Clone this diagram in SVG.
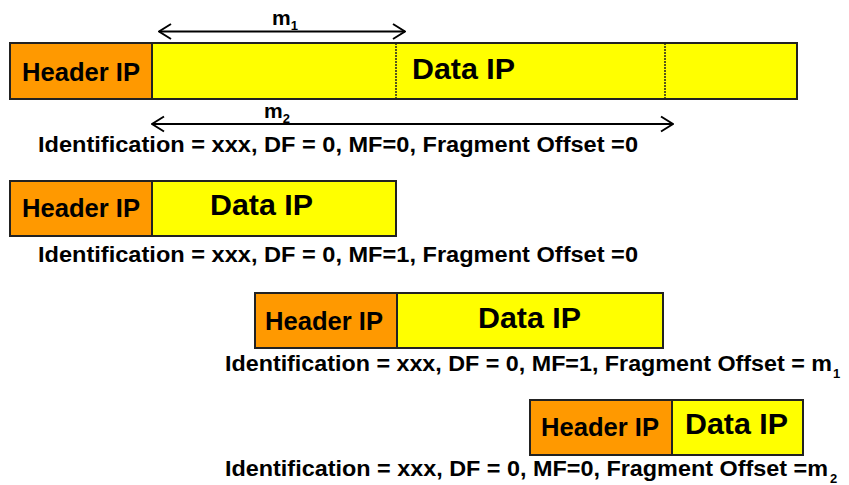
<svg xmlns="http://www.w3.org/2000/svg" width="849" height="485" viewBox="0 0 849 485">
<style>
text{font-family:"Liberation Sans",Arial,sans-serif;font-weight:bold;fill:#000}
.hdr{fill:#ff9900;stroke:#222;stroke-width:2}
.dat{fill:#ffff00;stroke:#222;stroke-width:2}
.h{font-size:25.5px}
.d{font-size:30px}
.l{font-size:22px}
.m{font-size:21px}
.sub{font-size:13px}
.dot{stroke:#222;stroke-width:1.5;stroke-dasharray:2 1}
.arr{stroke:#000;stroke-width:2;fill:none}
</style>
<defs>
<marker id="ah" viewBox="0 0 14 18" refX="13" refY="9" markerWidth="14" markerHeight="18" markerUnits="userSpaceOnUse" orient="auto-start-reverse">
<path d="M1,1.5 L13,9 L1,16.5" fill="none" stroke="#000" stroke-width="2"/>
</marker>
</defs>
<g id="packet0">
<rect class="hdr" x="10" y="43" width="142" height="56"/>
<rect class="dat" x="152" y="43" width="645" height="56"/>
<line class="dot" x1="396" y1="43" x2="396" y2="99"/>
<line class="dot" x1="665" y1="43" x2="665" y2="99"/>
<text class="h" x="22" y="80.5" textLength="118" lengthAdjust="spacingAndGlyphs">Header IP</text>
<text class="d" x="412" y="78.5" textLength="103" lengthAdjust="spacingAndGlyphs">Data IP</text>
<text class="l" x="38" y="151.5" textLength="600" lengthAdjust="spacingAndGlyphs">Identification = xxx, DF = 0, MF=0, Fragment Offset =0</text>
</g>
<g id="connectors">
<line class="arr" x1="159" y1="31.5" x2="405" y2="31.5" marker-start="url(#ah)" marker-end="url(#ah)"/>
<line class="arr" x1="152" y1="124" x2="673" y2="124" marker-start="url(#ah)" marker-end="url(#ah)"/>
</g>
<g id="labels">
<text class="m" x="272" y="25">m<tspan class="sub" dy="5">1</tspan></text>
<text class="m" x="264" y="118">m<tspan class="sub" dy="5">2</tspan></text>
</g>
<g id="packet1">
<rect class="hdr" x="10" y="181" width="142" height="55"/>
<rect class="dat" x="152" y="181" width="244" height="55"/>
<text class="h" x="22" y="217" textLength="118" lengthAdjust="spacingAndGlyphs">Header IP</text>
<text class="d" x="210" y="215" textLength="103" lengthAdjust="spacingAndGlyphs">Data IP</text>
<text class="l" x="38" y="262" textLength="600" lengthAdjust="spacingAndGlyphs">Identification = xxx, DF = 0, MF=1, Fragment Offset =0</text>
</g>
<g id="packet2">
<rect class="hdr" x="255" y="293" width="142" height="55"/>
<rect class="dat" x="397" y="293" width="266" height="55"/>
<text class="h" x="265" y="330" textLength="118" lengthAdjust="spacingAndGlyphs">Header IP</text>
<text class="d" x="478" y="328" textLength="103" lengthAdjust="spacingAndGlyphs">Data IP</text>
<text class="l" x="225" y="370.5" textLength="607" lengthAdjust="spacingAndGlyphs">Identification = xxx, DF = 0, MF=1, Fragment Offset = m</text>
<text class="sub" x="833" y="378">1</text>
</g>
<g id="packet3">
<rect class="hdr" x="530" y="400" width="142" height="55"/>
<rect class="dat" x="672" y="400" width="131" height="55"/>
<text class="h" x="541" y="436" textLength="118" lengthAdjust="spacingAndGlyphs">Header IP</text>
<text class="d" x="685" y="434" textLength="103" lengthAdjust="spacingAndGlyphs">Data IP</text>
<text class="l" x="225" y="475.5" textLength="603" lengthAdjust="spacingAndGlyphs">Identification = xxx, DF = 0, MF=0, Fragment Offset =m</text>
<text class="sub" x="830" y="483">2</text>
</g>
</svg>
